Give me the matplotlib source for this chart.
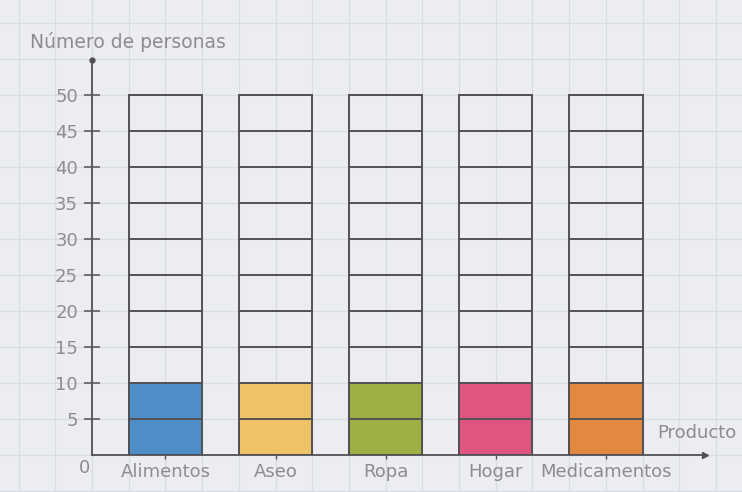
import matplotlib
matplotlib.use("Agg")
import matplotlib.pyplot as plt
import numpy as np

categories = ["Alimentos", "Aseo", "Ropa", "Hogar", "Medicamentos"]
values = [10, 10, 10, 10, 10]
colors = ["#4d8ec8", "#efc265", "#9cb043", "#e0557f", "#e2893f"]
frame_max = 50
yticks = [5, 10, 15, 20, 25, 30, 35, 40, 45, 50]

plt.rcParams['font.family'] = ['DejaVu Sans']
bg = "#ebedf1"
grid_c = "#d9dce2"
line_c = "#525256"
text_c = "#8c8c90"

fig = plt.figure(figsize=(7.42, 4.92), dpi=100)
fig.patch.set_facecolor(bg)
ax = fig.add_axes([92/742, 37/492, 613/742, 395/492])
ax.set_facecolor(bg)
ax.set_xlim(0, 16.7)
ax.set_ylim(0, 54.9)

# graph-paper background grid
for gx in range(-3, 19):
    ax.plot([gx, gx], [-6, 64], color=grid_c, lw=0.9, zorder=0, clip_on=False)
for gy in range(-5, 65, 5):
    ax.plot([-3, 18], [gy, gy], color=grid_c, lw=0.9, zorder=0, clip_on=False)

centers = np.arange(len(categories)) * 3 + 2
width = 2.0
# filled bars
ax.bar(centers, values, width=width, color=colors, edgecolor=line_c, linewidth=1.4, zorder=2)
# empty frames up to 50
ax.bar(centers, [frame_max] * len(centers), width=width, facecolor="none",
       edgecolor=line_c, linewidth=1.4, zorder=3)
for c in centers:
    for yl in yticks:
        ax.plot([c - width/2, c + width/2], [yl, yl], color=line_c, lw=1.4, zorder=3)

# axes styling
for s in ["top", "right"]:
    ax.spines[s].set_visible(False)
for s in ["left", "bottom"]:
    ax.spines[s].set_color(line_c)
    ax.spines[s].set_linewidth(1.3)
ax.set_yticks(yticks)
ax.set_yticklabels([str(t) for t in yticks])
ax.set_xticks(centers)
ax.set_xticklabels(categories)
ax.tick_params(axis='y', direction='inout', length=12, width=1.1, color=line_c,
               labelcolor=text_c, labelsize=13, pad=4)
ax.tick_params(axis='x', direction='inout', length=6, width=1.0, color=line_c,
               labelcolor=text_c, labelsize=13, pad=3)

# arrows
ax.plot(1, 0, ">", color=line_c, ms=5, transform=ax.transAxes, clip_on=False, zorder=4)
ax.plot(0, 1, "o", color=line_c, ms=3.5, transform=ax.transAxes, clip_on=False, zorder=4)

ax.text(-0.05, -0.5, "0", ha="right", va="top", color=text_c, fontsize=13)
ax.text(17.55, 3.0, "Producto", ha="right", va="center", color=text_c, fontsize=13)
fig.text(30/742, 1 - 42/492, "Número de personas", ha="left", va="center",
         color=text_c, fontsize=13.5)

fig.savefig("out.png", dpi=100, facecolor=bg)
